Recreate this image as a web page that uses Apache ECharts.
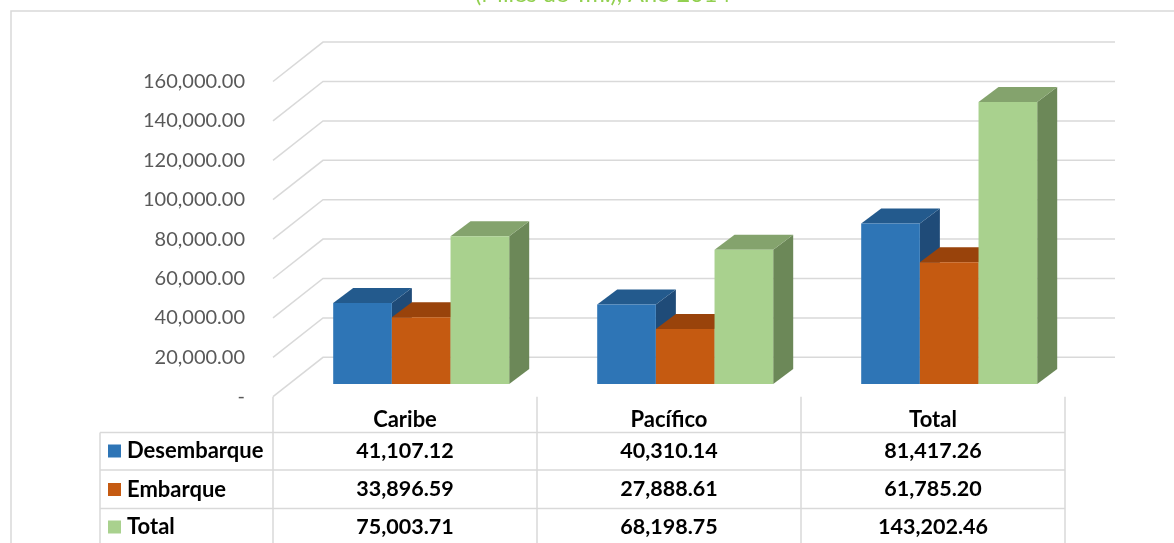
<!DOCTYPE html>
<html style="height:100%;width:100%;">
<head>
  <meta charset="utf-8">
  <title>Desembarque / Embarque 2014</title>
  <script src="https://cdn.jsdelivr.net/npm/echarts@6/dist/echarts.min.js"></script>
</head>
<body style="margin:0px;height:100%;width:100%;background:#fff;">
  <div id="main" style="width:1174px;height:543px"></div>
  <script type="text/javascript">
    // datos
    var categories = ['Caribe', 'Pacífico', 'Total'];
    var seriesNames = ['Desembarque', 'Embarque', 'Total'];
    var desembarque = [41107.12, 40310.14, 81417.26];
    var embarque = [33896.59, 27888.61, 61785.20];
    var total = [75003.71, 68198.75, 143202.46];
    var yTicks = [0, 20000, 40000, 60000, 80000, 100000, 120000, 140000, 160000];

    var font = 'Lato';
    // colores: frente, tapa, lado
    var faces = [
      ['#2E75B6', '#235A8D', '#1F4B78'],
      ['#C55A11', '#99430B', '#843C0C'],
      ['#A9D18E', '#84A36D', '#6C8858']
    ];
    var wallDX = 50, wallDY = -39.4;   // profundidad de las paredes
    var frontDX = 16.2, frontDY = -12.7; // donde empieza la barra
    var barDX = 20, barDY = -15;       // profundidad de la barra
    var groupRatio = 2 / 3;
    var gridColor = '#D9D9D9';

    function fmt(v) {
      return v.toLocaleString('en-US', { minimumFractionDigits: 2, maximumFractionDigits: 2 });
    }

    function bar3d(idx, values) {
      return {
        name: seriesNames[idx],
        type: 'custom',
        z: 3,
        data: values.map(function (v, i) { return [i, v]; }),
        encode: { x: 0, y: 1 },
        renderItem: function (params, api) {
          var cat = api.value(0), val = api.value(1);
          var base = api.coord([cat, 0]);
          var top = api.coord([cat, val]);
          var band = api.size([1, 0])[0];
          var bw = band * groupRatio / 3;
          var x0 = base[0] - band * groupRatio / 2 + idx * bw + frontDX;
          var yb = base[1] + frontDY, yt = top[1] + frontDY;
          var c = faces[idx];
          return {
            type: 'group',
            children: [{
              type: 'polygon',
              shape: { points: [[x0 + bw, yt], [x0 + bw + barDX, yt + barDY], [x0 + bw + barDX, yb + barDY], [x0 + bw, yb]] },
              style: { fill: c[2] }
            }, {
              type: 'polygon',
              shape: { points: [[x0, yt], [x0 + barDX, yt + barDY], [x0 + bw + barDX, yt + barDY], [x0 + bw, yt]] },
              style: { fill: c[1] }
            }, {
              type: 'rect',
              shape: { x: x0, y: yt, width: bw, height: yb - yt },
              style: { fill: c[0] }
            }]
          };
        }
      };
    }

    var wallSeries = {
      type: 'custom',
      z: 1,
      silent: true,
      data: yTicks.map(function (v) { return [0, v]; }),
      encode: { x: 0, y: 1 },
      renderItem: function (params, api) {
        var p = api.coord([0, api.value(1)]);
        var xl = params.coordSys.x, xr = xl + params.coordSys.width;
        var y = p[1];
        return {
          type: 'polyline',
          shape: { points: [[xl, y], [xl + wallDX, y + wallDY], [xr + wallDX, y + wallDY]] },
          style: { stroke: gridColor, lineWidth: 1.5, fill: null }
        };
      }
    };

    var myChart = echarts.init(document.getElementById('main'));
    var option = {
      backgroundColor: '#fff',
      animation: false,
      grid: { left: 273, right: 109, top: 81.5, bottom: 146.3 },
      xAxis: {
        type: 'category',
        data: categories,
        axisLine: { show: false },
        axisTick: { show: true, length: 150, alignWithLabel: false, lineStyle: { color: gridColor, width: 1.5 } },
        axisLabel: { margin: 12, fontFamily: font, fontSize: 22, fontWeight: 'bold', color: '#000' },
        splitLine: { show: false }
      },
      yAxis: {
        type: 'value',
        min: 0,
        max: 160000,
        interval: 20000,
        axisLine: { show: false },
        axisTick: { show: false },
        splitLine: { show: false },
        axisLabel: {
          margin: 28,
          fontFamily: font,
          fontSize: 20,
          color: '#595959',
          formatter: function (v) { return v === 0 ? '-' : fmt(v); }
        }
      },
      series: [wallSeries, bar3d(0, desembarque), bar3d(1, embarque), bar3d(2, total)]
    };
    myChart.setOption(option);

    // tabla de datos
    var rows = [desembarque, embarque, total];
    var rowLines = [432.5, 470, 508.5];
    var rowCenters = [451, 489.5, 527];
    var colX = categories.map(function (c, i) { return myChart.convertToPixel({ xAxisIndex: 0 }, i); });
    var tableLeft = 100;
    var tableRight = colX[colX.length - 1] + (colX[1] - colX[0]) / 2;
    var graphic = [{
      type: 'rect',
      shape: { x: 11, y: 11, width: 1300, height: 700 },
      style: { fill: null, stroke: gridColor, lineWidth: 1.5 },
      silent: true
    }, {
      type: 'text',
      x: 603, y: 6,
      style: { text: '(Miles de Tm.), Año 2014', fontFamily: font, fontSize: 23.5, fill: '#92D050', align: 'center', verticalAlign: 'bottom' }
    }, {
      type: 'line',
      shape: { x1: tableLeft, y1: rowLines[0], x2: tableLeft, y2: 560 },
      style: { stroke: gridColor, lineWidth: 1.5 }
    }];
    rowLines.forEach(function (y) {
      graphic.push({
        type: 'line',
        shape: { x1: tableLeft, y1: y, x2: tableRight, y2: y },
        style: { stroke: gridColor, lineWidth: 1.5 }
      });
    });
    rows.forEach(function (vals, r) {
      var y = rowCenters[r];
      graphic.push({
        type: 'rect',
        shape: { x: 108, y: y - 6.5, width: 13, height: 13 },
        style: { fill: faces[r][0] }
      });
      graphic.push({
        type: 'text',
        x: 127, y: y,
        style: { text: seriesNames[r], fontFamily: font, fontSize: 22, fontWeight: 'bold', fill: '#000', align: 'left', verticalAlign: 'middle' }
      });
      vals.forEach(function (v, i) {
        graphic.push({
          type: 'text',
          x: colX[i], y: y,
          style: { text: fmt(v), fontFamily: font, fontSize: 21.5, fontWeight: 'bold', fill: '#000', align: 'center', verticalAlign: 'middle' }
        });
      });
    });
    myChart.setOption({ graphic: graphic });
  </script>
</body>
</html>
